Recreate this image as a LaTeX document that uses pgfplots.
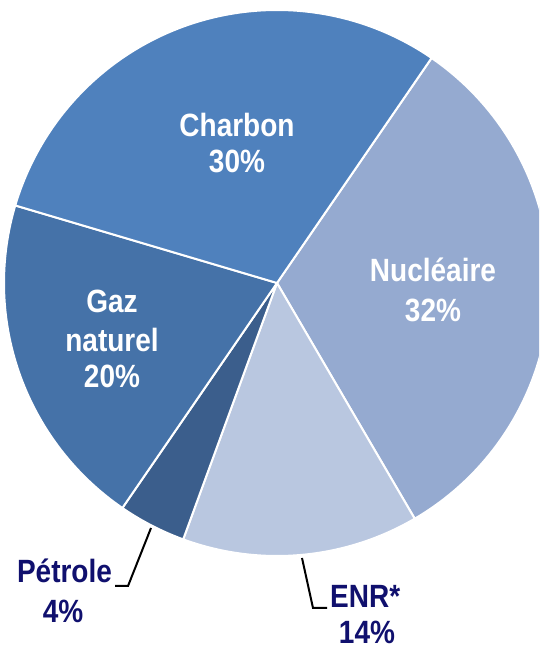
\documentclass[border=0pt]{standalone}
\usepackage{pgfplots}
\pgfplotsset{compat=1.18}
\usepackage{graphicx}
\usepackage{fontspec}
\setmainfont{Liberation Sans}
\definecolor{charbon}{RGB}{79,129,189}
\definecolor{nucl}{RGB}{149,170,208}
\definecolor{enr}{RGB}{185,199,224}
\definecolor{petrole}{RGB}{59,94,140}
\definecolor{gaz}{RGB}{69,114,168}
\definecolor{navy}{RGB}{16,16,110}
\newcommand\lbl[1]{\scalebox{1}[1.15]{\fontsize{28}{30}\selectfont\bfseries #1}}
\def\pieR{273}
\def\pieS{55.5}
\begin{document}
\begin{tikzpicture}
\begin{axis}[scale only axis, width=539pt, height=650pt,
  xmin=-277, xmax=262, ymin=-367, ymax=283,
  axis line style={draw=none}, xtick=\empty, ytick=\empty, clip=true]
% percentages: Nucleaire 32, ENR 14, Petrole 4, Gaz 20, Charbon 30 (clockwise)
\addplot[fill=nucl, draw=white, line width=2pt, line join=round, samples=90, variable=\t,
  domain={\pieS}:{\pieS-3.6*32}] ({\pieR*cos(\t)},{\pieR*sin(\t)}) -- (axis cs:0,0) -- cycle;
\addplot[fill=enr, draw=white, line width=2pt, line join=round, samples=60, variable=\t,
  domain={\pieS-3.6*32}:{\pieS-3.6*46}] ({\pieR*cos(\t)},{\pieR*sin(\t)}) -- (axis cs:0,0) -- cycle;
\addplot[fill=petrole, draw=white, line width=2pt, line join=round, samples=30, variable=\t,
  domain={\pieS-3.6*46}:{\pieS-3.6*50}] ({\pieR*cos(\t)},{\pieR*sin(\t)}) -- (axis cs:0,0) -- cycle;
\addplot[fill=gaz, draw=white, line width=2pt, line join=round, samples=70, variable=\t,
  domain={\pieS-3.6*50}:{\pieS-3.6*70}] ({\pieR*cos(\t)},{\pieR*sin(\t)}) -- (axis cs:0,0) -- cycle;
\addplot[fill=charbon, draw=white, line width=2pt, line join=round, samples=90, variable=\t,
  domain={\pieS-3.6*70}:{\pieS-3.6*100}] ({\pieR*cos(\t)},{\pieR*sin(\t)}) -- (axis cs:0,0) -- cycle;
% labels inside
\node[white, anchor=base] at (axis cs:-40,146) {\lbl{Charbon}};
\node[white, anchor=base] at (axis cs:-40,110) {\lbl{30\%}};
\node[white, anchor=base] at (axis cs:156,1) {\lbl{Nucléaire}};
\node[white, anchor=base] at (axis cs:156,-39) {\lbl{32\%}};
\node[white, anchor=base] at (axis cs:-165,-30) {\lbl{Gaz}};
\node[white, anchor=base] at (axis cs:-165,-69) {\lbl{naturel}};
\node[white, anchor=base] at (axis cs:-165,-105) {\lbl{20\%}};
% outside labels
\draw[black, line width=2pt] (axis cs:-126,-245) -- (axis cs:-149,-303) -- (axis cs:-162,-303);
\node[navy, anchor=base] at (axis cs:-212.5,-300) {\lbl{Pétrole}};
\node[navy, anchor=base] at (axis cs:-214,-340) {\lbl{4\%}};
\draw[black, line width=2pt] (axis cs:25,-275) -- (axis cs:36,-325) -- (axis cs:50,-325);
\node[navy, anchor=base west, inner sep=0pt] at (axis cs:53,-325) {\lbl{ENR*}};
\node[navy, anchor=base] at (axis cs:90,-361) {\lbl{14\%}};
\end{axis}
\end{tikzpicture}
\end{document}
